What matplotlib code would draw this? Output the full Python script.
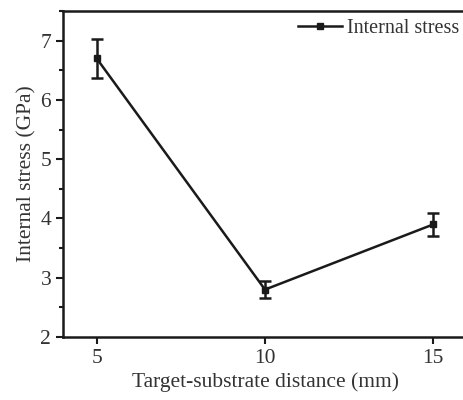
import matplotlib
matplotlib.use("Agg")
import matplotlib.pyplot as plt
from matplotlib.ticker import MultipleLocator
from matplotlib.lines import Line2D

distance = [5, 10, 15]
stress = [6.70, 2.80, 3.90]
stress_err = [0.33, 0.14, 0.20]

plt.rcParams['font.family'] = ['Liberation Serif', 'DejaVu Serif']
plt.rcParams['mathtext.fontset'] = 'stix'

fig = plt.figure(figsize=(4.63, 4.0), dpi=100)
W, H = 463, 400
left, right, top, bottom = 63, 467, 11, 337
ax = fig.add_axes([left / W, (H - bottom) / H, (right - left) / W, (bottom - top) / H])

col = '#1a1a1a'
ax.errorbar(distance, stress, yerr=stress_err, color=col, lw=1.8,
            marker='s', ms=5, capsize=4, capthick=1.8, elinewidth=1.8)

ax.set_xlim(4, 16)
ax.set_ylim(2, 7.5)
ax.set_xticks([5, 10, 15])
ax.yaxis.set_major_locator(MultipleLocator(1))
ax.yaxis.set_minor_locator(MultipleLocator(0.5))
ax.tick_params(axis='both', which='major', direction='out', length=5, width=1.5,
               labelsize=15.5, color=col, labelcolor='#333333')
ax.tick_params(axis='y', which='minor', direction='out', length=3, width=1.5, color=col)
for s in ax.spines.values():
    s.set_linewidth(1.8)
    s.set_color(col)

ax.set_xlabel('Target-substrate distance (mm)', fontsize=15.5, labelpad=3, color='#333333')
ax.set_ylabel('Internal stress (GPa)', fontsize=15.5, labelpad=3, color='#333333')

handle = Line2D([], [], color=col, lw=1.8, marker='s', ms=5)
leg = fig.legend([handle], ['Internal stress'], loc='upper left',
                 bbox_to_anchor=(298 / W, 1 - 19 / H), bbox_transform=fig.transFigure,
                 frameon=False, fontsize=14.5, handlelength=2.2, handletextpad=0.25,
                 borderpad=0, borderaxespad=0)
for t in leg.get_texts():
    t.set_color('#333333')

fig.savefig('out.png', dpi=100)
